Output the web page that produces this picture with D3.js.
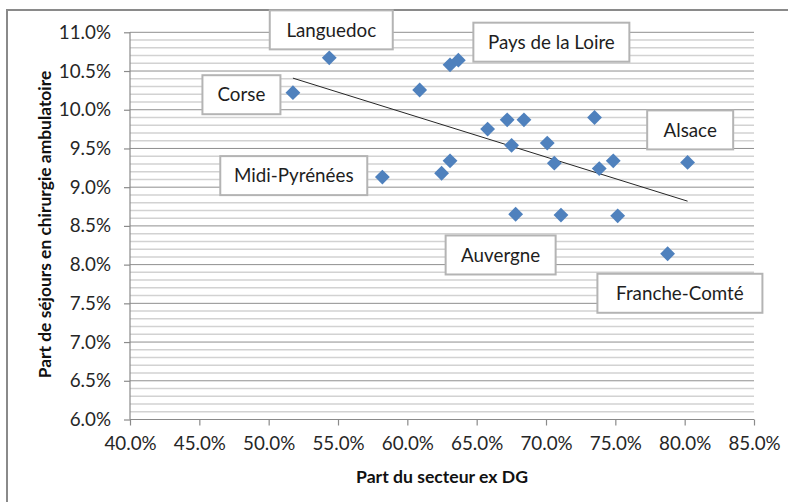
<!DOCTYPE html>
<html>
<head>
<meta charset="utf-8">
<script src="https://cdn.jsdelivr.net/npm/d3@7"></script>
<style>
  html, body { margin: 0; padding: 0; background: #fff; }
  svg { display: block; font-family: Lato, "Open Sans", sans-serif; }
</style>
</head>
<body>
<svg id="chart" width="788" height="502"></svg>
<script>
// Region names (only the annotated regions carry a name)
const regions = [
  "Corse", "Languedoc", "Midi-Pyrénées", "", "", "Pays de la Loire", "", "",
  "", "", "", "", "Auvergne", "", "", "", "", "", "", "", "Franche-Comté", "Alsace"
];
// Share of the former DG sector (%)
const partSecteurExDG = [
  51.75, 54.37, 58.20, 60.89, 63.08, 63.68, 62.47, 63.08,
  65.79, 67.20, 68.41, 67.52, 67.81, 70.09, 70.60, 71.08,
  73.50, 73.84, 74.85, 75.17, 78.77, 80.21
];
// Share of day-surgery stays (%)
const partAmbulatoire = [
  10.22, 10.67, 9.13, 10.255, 10.58, 10.64, 9.18, 9.34,
  9.75, 9.87, 9.87, 9.54, 8.65, 9.57, 9.31, 8.64,
  9.90, 9.24, 9.34, 8.63, 8.14, 9.32
];
const xTicks = [40, 45, 50, 55, 60, 65, 70, 75, 80, 85];
const yTicks = [6.0, 6.5, 7.0, 7.5, 8.0, 8.5, 9.0, 9.5, 10.0, 10.5, 11.0];
const xTitle = "Part du secteur ex DG";
const yTitle = "Part de séjours en chirurgie ambulatoire";

// Callout boxes: offset of the box centre from its point, and box size
const callouts = {
  "Languedoc":        { dx: 2,     dy: -28,   w: 123, h: 39 },
  "Corse":            { dx: -51.5, dy: 2,     w: 78,  h: 39 },
  "Midi-Pyrénées":    { dx: -88.6, dy: -1.5,  w: 147, h: 39 },
  "Pays de la Loire": { dx: 93,    dy: -18,   w: 156, h: 39 },
  "Alsace":           { dx: 2.6,   dy: -32.5, w: 86,  h: 39 },
  "Auvergne":         { dx: -15,   dy: 40.7,  w: 110, h: 39 },
  "Franche-Comté":    { dx: 12.3,  dy: 39.5,  w: 165, h: 39 }
};

const data = partSecteurExDG.map((x, i) => ({ x, y: partAmbulatoire[i], name: regions[i] }));

const svg = d3.select("#chart");
const plot = { left: 130, right: 754, top: 32.3, bottom: 419.5 };

const x = d3.scaleLinear().domain([40, 85]).range([plot.left, plot.right]);
const y = d3.scaleLinear().domain([6, 11]).range([plot.bottom, plot.top]);

// Outer chart frame (runs off the right and bottom edges)
svg.append("path")
  .attr("d", `M7,${502 + 5} L7,10 L${788 + 5},10`)
  .attr("fill", "none").attr("stroke", "#8a8a8a").attr("stroke-width", 2);

// Minor horizontal gridlines every 0.1 %
const minor = d3.range(61, 111).map(v => v / 10).filter(v => Math.round(v * 10) % 5 !== 0);
svg.append("g").selectAll("line").data(minor).join("line")
  .attr("x1", plot.left).attr("x2", plot.right)
  .attr("y1", d => y(d)).attr("y2", d => y(d))
  .attr("stroke", "#d2d2d2").attr("stroke-width", 1.5);

// Major horizontal gridlines every 0.5 %
svg.append("g").selectAll("line").data(yTicks.slice(1)).join("line")
  .attr("x1", plot.left).attr("x2", plot.right)
  .attr("y1", d => y(d)).attr("y2", d => y(d))
  .attr("stroke", "#8f8f8f").attr("stroke-width", 1);

// Axes
const fmt = d => d.toFixed(1) + "%";
const yAxis = svg.append("g")
  .attr("transform", `translate(${plot.left},0)`)
  .call(d3.axisLeft(y).tickValues(yTicks).tickFormat(fmt).tickSize(6).tickPadding(13));
const xAxis = svg.append("g")
  .attr("transform", `translate(0,${plot.bottom})`)
  .call(d3.axisBottom(x).tickValues(xTicks).tickFormat(fmt).tickSize(6).tickPadding(11));

[yAxis, xAxis].forEach(g => {
  g.select(".domain").attr("stroke", "#8a8a8a").attr("stroke-width", 1.2);
  g.selectAll(".tick line").attr("stroke", "#8a8a8a").attr("stroke-width", 1.2);
  g.selectAll(".tick text")
    .attr("fill", "#262626")
    .style("font-family", "Lato, sans-serif")
    .style("font-size", "18.8px");
});
xAxis.select(".domain").attr("d", `M${plot.left},0H${plot.right}`);
yAxis.select(".domain").attr("d", `M0,${plot.bottom}V${plot.top}`);

// Linear trend line fitted over the points
const mx = d3.mean(data, d => d.x), my = d3.mean(data, d => d.y);
const slope = d3.sum(data, d => (d.x - mx) * (d.y - my)) / d3.sum(data, d => (d.x - mx) ** 2);
const x0 = d3.min(data, d => d.x), x1 = d3.max(data, d => d.x);
svg.append("line")
  .attr("x1", x(x0)).attr("y1", y(my + slope * (x0 - mx)))
  .attr("x2", x(x1)).attr("y2", y(my + slope * (x1 - mx)))
  .attr("stroke", "#262626").attr("stroke-width", 1);

// Diamond markers
const diamond = d3.symbol().type(d3.symbolDiamond2).size(140);
svg.append("g").selectAll("path").data(data).join("path")
  .attr("d", diamond)
  .attr("transform", d => `translate(${x(d.x)},${y(d.y)})`)
  .attr("fill", "#4f81bd");

// Callout boxes with region names
const labelled = data.filter(d => d.name && callouts[d.name]);
const cg = svg.append("g").selectAll("g").data(labelled).join("g")
  .attr("transform", d => {
    const c = callouts[d.name];
    return `translate(${x(d.x) + c.dx},${y(d.y) + c.dy})`;
  });
cg.append("rect")
  .attr("x", d => -callouts[d.name].w / 2).attr("y", d => -callouts[d.name].h / 2)
  .attr("width", d => callouts[d.name].w).attr("height", d => callouts[d.name].h)
  .attr("fill", "#fff").attr("stroke", "#b4b4b4").attr("stroke-width", 2);
cg.append("text")
  .attr("text-anchor", "middle").attr("dy", "0.36em")
  .attr("fill", "#1e1e1e")
  .style("font-size", "18.8px")
  .text(d => d.name);

// Axis titles
svg.append("text")
  .attr("x", 442).attr("y", 482.5)
  .attr("text-anchor", "middle")
  .style("font-weight", "bold").style("font-size", "17.6px").attr("fill", "#111")
  .text(xTitle);
svg.append("text")
  .attr("transform", "translate(51,224.5) rotate(-90)")
  .attr("text-anchor", "middle")
  .style("font-weight", "bold").style("font-size", "17.4px").attr("fill", "#111")
  .text(yTitle);
</script>
</body>
</html>
